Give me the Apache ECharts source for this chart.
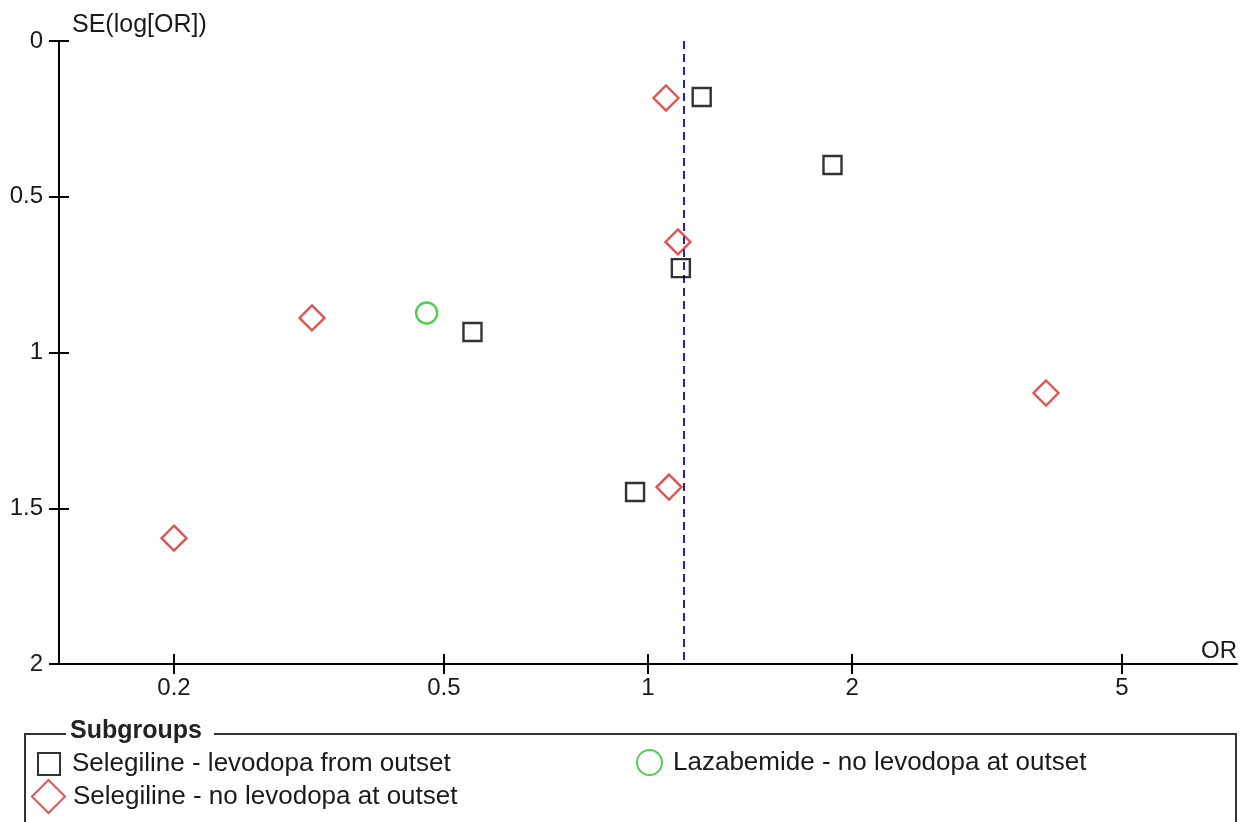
<!DOCTYPE html>
<html>
<head>
<meta charset="utf-8">
<script src="https://cdn.jsdelivr.net/npm/echarts@6/dist/echarts.min.js"></script>
<style>
  html, body { margin: 0; padding: 0; background: #ffffff; }
  #chart { width: 1240px; height: 822px; }
</style>
</head>
<body>
<div id="chart"></div>
<script>
// Funnel plot: odds ratio (log scale) against standard error of log(OR)
const groupNames = [
  'Selegiline - levodopa from outset',
  'Selegiline - no levodopa at outset',
  'Lazabemide - no levodopa at outset'
];

const selLevodopaOR = [1.20, 1.871, 1.118, 0.551, 0.957];
const selLevodopaSE = [0.180, 0.398, 0.729, 0.934, 1.448];

const selNoLevodopaOR = [1.063, 1.107, 0.3195, 3.863, 1.074, 0.200];
const selNoLevodopaSE = [0.183, 0.645, 0.889, 1.130, 1.432, 1.596];

const lazabemideOR = [0.4716];
const lazabemideSE = [0.873];

const pooledOR = 1.126;

const xTickValues = [0.2, 0.5, 1, 2, 5];
const yTickValues = [0, 0.5, 1, 1.5, 2];

const FONT = '"Liberation Sans", Arial, sans-serif';
const TEXT = '#1a1a1a';

const pairs = (xs, ys) => xs.map((x, i) => [x, ys[i]]);
const fmt = v => String(parseFloat(Number(v).toPrecision(6)));

const gridBox = { left: 59, right: 3, top: 41, bottom: 158 };
const xMin = Math.exp(-2), xMax = Math.exp(2);

const chart = echarts.init(document.getElementById('chart'), null, { renderer: 'canvas' });

const hollow = (c, w) => ({ color: 'rgba(0,0,0,0)', borderColor: c, borderWidth: w || 2.4 });

chart.setOption({
  backgroundColor: '#ffffff',
  animation: false,
  textStyle: { fontFamily: FONT },
  grid: [
    Object.assign({}, gridBox),
    Object.assign({}, gridBox)
  ],
  xAxis: [
    {
      type: 'log', logBase: 10, gridIndex: 0, position: 'bottom',
      min: xMin, max: xMax,
      name: 'OR', nameLocation: 'end', nameGap: 0,
      nameTextStyle: { fontFamily: FONT, fontSize: 24, color: TEXT, align: 'right', verticalAlign: 'bottom', padding: [0, 0, 1, 0] },
      axisLine: { show: true, onZero: false, lineStyle: { color: '#000', width: 2 } },
      axisTick: { show: true, inside: false, length: 10, customValues: xTickValues, lineStyle: { color: '#000', width: 2 } },
      axisLabel: { show: true, customValues: xTickValues, formatter: fmt, fontFamily: FONT, fontSize: 24, color: TEXT, margin: 12 },
      splitLine: { show: false }, minorTick: { show: false }
    },
    {
      // companion axis: upper half of the crossing ticks
      type: 'log', logBase: 10, gridIndex: 1, position: 'bottom',
      min: xMin, max: xMax,
      axisLine: { show: false, onZero: false },
      axisTick: { show: true, inside: true, length: 10, customValues: xTickValues, lineStyle: { color: '#000', width: 2 } },
      axisLabel: { show: false },
      splitLine: { show: false }
    }
  ],
  yAxis: [
    {
      type: 'value', gridIndex: 0, inverse: true, position: 'left',
      min: 0, max: 2, interval: 0.5,
      name: 'SE(log[OR])', nameLocation: 'start', nameGap: 16,
      nameTextStyle: { fontFamily: FONT, fontSize: 25, color: TEXT, align: 'left', verticalAlign: 'middle', padding: [0, 0, 0, 13] },
      axisLine: { show: true, onZero: false, lineStyle: { color: '#000', width: 2 } },
      axisTick: { show: true, inside: false, length: 10, lineStyle: { color: '#000', width: 2 } },
      axisLabel: { show: true, customValues: yTickValues, formatter: fmt, fontFamily: FONT, fontSize: 24, color: TEXT, margin: 16 },
      splitLine: { show: false }
    },
    {
      // companion axis: right half of the crossing ticks
      type: 'value', gridIndex: 1, inverse: true, position: 'left',
      min: 0, max: 2, interval: 0.5,
      axisLine: { show: false, onZero: false },
      axisTick: { show: true, inside: true, length: 10, lineStyle: { color: '#000', width: 2 } },
      axisLabel: { show: false },
      splitLine: { show: false }
    }
  ],
  legend: [
    {
      data: [groupNames[0]], left: 37, top: 751, padding: 0, selectedMode: false,
      icon: 'rect', itemWidth: 22, itemHeight: 22,
      itemStyle: hollow('#000', 2),
      textStyle: { fontFamily: FONT, fontSize: 26, color: TEXT, padding: [6, 0, 0, 7] }
    },
    {
      data: [groupNames[1]], left: 31, top: 779, padding: 0, selectedMode: false,
      icon: 'diamond', itemWidth: 33, itemHeight: 33,
      itemStyle: hollow('#d82828', 2),
      textStyle: { fontFamily: FONT, fontSize: 26, color: TEXT, padding: [6, 0, 0, 3] }
    },
    {
      data: [groupNames[2]], left: 636, top: 749, padding: 0, selectedMode: false,
      icon: 'circle', itemWidth: 25, itemHeight: 25,
      itemStyle: hollow('#22c322', 2),
      textStyle: { fontFamily: FONT, fontSize: 26, color: TEXT, padding: [6, 0, 0, 6] }
    }
  ],
  graphic: [
    {
      type: 'polyline', silent: true,
      shape: { points: [[66, 734], [25, 734], [25, 840]] },
      style: { stroke: '#333', lineWidth: 2, fill: null }
    },
    {
      type: 'polyline', silent: true,
      shape: { points: [[214, 734], [1236, 734], [1236, 840]] },
      style: { stroke: '#333', lineWidth: 2, fill: null }
    },
    {
      type: 'text', silent: true, left: 70, top: 719,
      style: { text: 'Subgroups', fontFamily: FONT, fontSize: 25, fontWeight: 'bold', fill: '#222' }
    }
  ],
  series: [
    {
      name: groupNames[0], type: 'scatter', xAxisIndex: 0, yAxisIndex: 0,
      symbol: 'rect', symbolSize: 18, z: 3,
      itemStyle: hollow('#000'),
      data: pairs(selLevodopaOR, selLevodopaSE),
      markLine: {
        silent: true, symbol: 'none', z: 1,
        label: { show: false },
        lineStyle: { type: [8, 5], color: '#1f1fc8', width: 2 },
        data: [{ xAxis: pooledOR }]
      }
    },
    {
      name: groupNames[1], type: 'scatter', xAxisIndex: 0, yAxisIndex: 0,
      symbol: 'diamond', symbolSize: 25, z: 3,
      itemStyle: hollow('#d82828'),
      data: pairs(selNoLevodopaOR, selNoLevodopaSE)
    },
    {
      name: groupNames[2], type: 'scatter', xAxisIndex: 0, yAxisIndex: 0,
      symbol: 'circle', symbolSize: 21, z: 3,
      itemStyle: hollow('#22c322'),
      data: pairs(lazabemideOR, lazabemideSE)
    }
  ]
});
</script>
</body>
</html>
